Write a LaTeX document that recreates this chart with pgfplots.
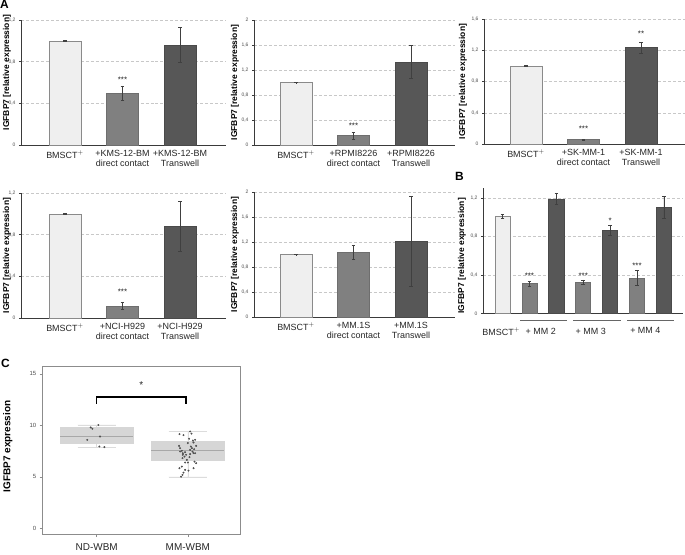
\documentclass[border=0pt]{standalone}
\usepackage{fontspec}
\setmainfont{Liberation Sans}
\usepackage{pgfplots}
\pgfplotsset{compat=1.18}
\usepgfplotslibrary{statistics}
\definecolor{cLight}{HTML}{EFEFEF}
\definecolor{cMid}{HTML}{808080}
\definecolor{cDark}{HTML}{575757}
\definecolor{cEdgeL}{HTML}{8A8A8A}
\definecolor{cEdgeM}{HTML}{6E6E6E}
\definecolor{cEdgeD}{HTML}{4A4A4A}
\definecolor{cAxis}{HTML}{3A3A3A}
\definecolor{cGrid}{HTML}{C8C8C8}
\definecolor{cBox}{HTML}{D6D6D6}
\definecolor{cMed}{HTML}{A8A8A8}
\definecolor{cWhisk}{HTML}{DCDCDC}
\definecolor{cPt}{HTML}{505050}

\pgfplotsset{
 ylab/.style 2 args={every axis y label/.style={at={(axis description cs:0,0.5)}, xshift=#1, yshift=#2, rotate=90, anchor=center, font=\bfseries\fontsize{8.5}{10}\selectfont}},
 barpanel/.style={
  scale only axis, anchor=south west,
  width=201bp, height=125bp,
  axis x line*=bottom, axis y line*=left,
  axis line style={cAxis, line width=0.8bp},
  ymin=0,
  xmin=-0.73, xmax=2.765,
  xtick={0,1,2},
  major x tick style={draw=none},
  major y tick style={cAxis, line width=0.5bp},
  tick align=outside,
  major tick length=2bp,
  ymajorgrids, grid style={densely dashed, cGrid, line width=0.4bp},
  /pgf/number format/assume math mode=true,
  yticklabel style={font=\fontsize{5}{6}\selectfont, text=black!70, /pgf/number format/.cd, fixed, use comma, precision=1},
  xticklabel style={font=\fontsize{9}{10}\selectfont, align=center, text=black!85},
  ylabel={IGFBP7 [relative expression]},
  ylab={-14bp}{0bp},
  ybar, bar shift=0pt, bar width=0.56,
  clip=false,
 },
 bL/.style={fill=cLight, draw=cEdgeL, line width=0.6bp, bar shift=0pt,
   error bars/.cd, y dir=both, y explicit,
   error bar style={black!75, line width=0.6bp},
   error mark options={black!75, line width=0.6bp, mark size=1.8bp, rotate=90}},
 bM/.style={fill=cMid, draw=cEdgeM, line width=0.6bp, bar shift=0pt,
   error bars/.cd, y dir=both, y explicit,
   error bar style={black!75, line width=0.6bp},
   error mark options={black!75, line width=0.6bp, mark size=1.8bp, rotate=90}},
 bD/.style={fill=cDark, draw=cEdgeD, line width=0.6bp, bar shift=0pt,
   error bars/.cd, y dir=both, y explicit,
   error bar style={black!75, line width=0.6bp},
   error mark options={black!75, line width=0.6bp, mark size=1.8bp, rotate=90}},
}
\tikzset{star/.style={font=\fontsize{8}{8}\selectfont, text=black!85, inner sep=0pt}}

\begin{document}
\begin{tikzpicture}
\path[use as bounding box] (0,0) rectangle (685bp,-555bp);

% panel letters
\node[anchor=north west, inner sep=0pt, font=\bfseries\fontsize{12}{12}\selectfont] at (0bp,-0.5bp) {A};
\node[anchor=north west, inner sep=0pt, font=\bfseries\fontsize{12}{12}\selectfont] at (455bp,-172bp) {B};
\node[anchor=north west, inner sep=0pt, font=\bfseries\fontsize{12}{12}\selectfont] at (1bp,-359bp) {C};

% ---------- A1 ----------
\begin{axis}[barpanel, at={(21bp,-145bp)}, width=205bp, xmax=2.8, xmin=-0.765,
  ymax=1.2, ytick={0,0.4,0.8,1.2},
  ylab={-14bp}{10bp},
  xticklabels={BMSCT$^{+}$, {+KMS-12-BM\\direct contact}, {+KMS-12-BM\\Transwell}}]
\addplot[bL] coordinates {(0,1.0) +- (0,0.004)};
\addplot[bM] coordinates {(1,0.50) +- (0,0.068)};
\addplot[bD] coordinates {(2,0.96) +- (0,0.17)};
\node[star] at (axis cs:1,0.63) {***};
\end{axis}

% ---------- A2 ----------
\begin{axis}[barpanel, at={(254bp,-145bp)},
  ymax=2, ytick={0,0.4,0.8,1.2,1.6,2},
  ylab={-19bp}{0bp},
  xticklabels={BMSCT$^{+}$, {+RPMI8226\\direct contact}, {+RPMI8226\\Transwell}}]
\addplot[bL] coordinates {(0,1.0) +- (0,0.004)};
\addplot[bM] coordinates {(1,0.15) +- (0,0.055)};
\addplot[bD] coordinates {(2,1.33) +- (0,0.27)};
\node[star] at (axis cs:1,0.30) {***};
\end{axis}

% ---------- A3 ----------
\begin{axis}[barpanel, at={(484bp,-144bp)},
  ymax=1.6, ytick={0,0.4,0.8,1.2,1.6},
  ylab={-21bp}{0bp},
  xticklabels={BMSCT$^{+}$, {+SK-MM-1\\direct contact}, {+SK-MM-1\\Transwell}}]
\addplot[bL] coordinates {(0,1.0) +- (0,0.004)};
\addplot[bM] coordinates {(1,0.055) +- (0,0.008)};
\addplot[bD] coordinates {(2,1.235) +- (0,0.07)};
\node[star] at (axis cs:1,0.19) {***};
\node[star] at (axis cs:2,1.41) {**};
\end{axis}

% ---------- A4 ----------
\begin{axis}[barpanel, at={(21bp,-318bp)}, width=205bp, xmax=2.8, xmin=-0.765,
  ymax=1.2, ytick={0,0.4,0.8,1.2},
  ylab={-14bp}{0bp},
  xticklabels={BMSCT$^{+}$, {+NCI-H929\\direct contact}, {+NCI-H929\\Transwell}}]
\addplot[bL] coordinates {(0,1.0) +- (0,0.004)};
\addplot[bM] coordinates {(1,0.117) +- (0,0.035)};
\addplot[bD] coordinates {(2,0.876) +- (0,0.24)};
\node[star] at (axis cs:1,0.25) {***};
\end{axis}

% ---------- A5 ----------
\begin{axis}[barpanel, at={(254bp,-317bp)},
  ymax=2, ytick={0,0.4,0.8,1.2,1.6,2},
  ylab={-19bp}{0bp},
  xticklabels={BMSCT$^{+}$, {+MM.1S\\direct contact}, {+MM.1S\\Transwell}}]
\addplot[bL] coordinates {(0,1.0) +- (0,0.004)};
\addplot[bM] coordinates {(1,1.04) +- (0,0.115)};
\addplot[bD] coordinates {(2,1.205) +- (0,0.72)};
\end{axis}

% ---------- B ----------
\begin{axis}[barpanel, at={(483bp,-313.3bp)}, width=200bp,
  xmin=-0.725, xmax=6.71, bar width=0.56,
  ymax=1.3, ytick={0,0.4,0.8,1.2},
  ylab={-21bp}{-5bp},
  xtick={-0.05,1.42,3.28,5.31},
  xticklabels={BMSCT$^{+}$, + MM 2, + MM 3, + MM 4},
  xticklabel style={yshift=-9bp}]
\addplot[bL] coordinates {(0,1.012) +- (0,0.02)};
\addplot[bM] coordinates {(1,0.31) +- (0,0.025)};
\addplot[bD] coordinates {(2,1.19) +- (0,0.06)};
\addplot[bM] coordinates {(3,0.323) +- (0,0.025)};
\addplot[bD] coordinates {(4,0.862) +- (0,0.055)};
\addplot[bM] coordinates {(5,0.368) +- (0,0.075)};
\addplot[bD] coordinates {(6,1.10) +- (0,0.115)};
\node[star] at (axis cs:1,0.39) {***};
\node[star] at (axis cs:3,0.39) {***};
\node[star] at (axis cs:4,0.96) {*};
\node[star] at (axis cs:5,0.49) {***};
\draw[black!60, line width=1.1bp] ([yshift=-7.5bp]axis cs:0.65,0) -- ([yshift=-7.5bp]axis cs:2.39,0);
\draw[black!60, line width=1.1bp] ([yshift=-7.5bp]axis cs:2.63,0) -- ([yshift=-7.5bp]axis cs:4.39,0);
\draw[black!60, line width=1.1bp] ([yshift=-7.5bp]axis cs:4.64,0) -- ([yshift=-7.5bp]axis cs:6.39,0);
\end{axis}

% ---------- C ----------
\begin{axis}[scale only axis, anchor=south west, at={(42.7bp,-534bp)},
  width=198bp, height=167.3bp,
  xmin=0.407, xmax=2.58, ymin=-0.55, ymax=15.7,
  axis line style={black!45, line width=0.6bp},
  xtick={1,2}, xticklabels={ND-WBM, MM-WBM},
  ytick={0,5,10,15},
  xtick pos=bottom, ytick pos=left,
  tick align=outside, major tick length=3bp,
  tick style={black!45, line width=0.5bp},
  /pgf/number format/assume math mode=true,
  yticklabel style={font=\fontsize{6}{7}\selectfont, text=black!70},
  xticklabel style={font=\fontsize{10}{12}\selectfont, text=black!85, yshift=-3bp},
  ylabel={IGFBP7 expression},
  every axis y label/.style={at={(axis description cs:0,0.5)}, xshift=-35bp, yshift=4bp, rotate=90, anchor=center, font=\bfseries\fontsize{10}{12}\selectfont},
  clip=false,
  boxplot/draw direction=y,
  boxplot/every box/.style={draw=cBox, fill=cBox},
  boxplot/every median/.style={draw=cMed, line width=0.8bp},
  boxplot/every whisker/.style={draw=cWhisk, line width=0.7bp},
]
\addplot[boxplot prepared={median=8.92, upper quartile=9.80, lower quartile=8.28,
   upper whisker=10.05, lower whisker=7.89, draw position=1, box extend=0.8, whisker extend=0.42},
   draw=cBox, fill=cBox] coordinates {};
\addplot[boxplot prepared={median=7.56, upper quartile=8.43, lower quartile=6.66,
   upper whisker=9.42, lower whisker=5.0, draw position=2, box extend=0.8, whisker extend=0.42},
   draw=cBox, fill=cBox] coordinates {};
% ND points
\addplot[only marks, mark=*, mark size=0.75bp, color=cPt] coordinates {
 (0.934,9.80) (0.952,9.67) (1.018,10.03) (1.036,8.92) (0.896,8.60) (1.029,7.95) (1.084,7.89)
};
% MM points
\addplot[only marks, mark=*, mark size=0.75bp, color=cPt] coordinates {
 (2.025,9.41) (1.908,9.15) (1.952,9.05) (2.014,8.70) (2.055,8.53) (2.080,8.60)
 (2.062,8.34) (2.000,8.28) (2.091,8.01) (1.904,8.01) (1.915,7.79) (2.044,7.79)
 (2.025,7.62) (2.069,7.69) (1.934,7.53) (2.051,7.46) (1.970,7.40) (1.945,7.30)
 (2.062,7.30) (2.080,7.30) (1.945,7.14) (1.981,7.14) (1.963,6.97) (1.941,6.82)
 (2.018,6.91) (1.989,6.65) (2.073,6.48) (1.970,6.39) (2.000,6.39) (2.091,6.33)
 (1.934,6.00) (1.908,5.84) (2.062,5.84) (1.970,5.68) (2.007,5.61) (1.952,5.41)
 (1.941,5.19) (1.926,5.02) (2.025,7.21) (2.033,7.95) (1.915,7.46) (2.040,9.20)
};
\draw[black, line width=1.5bp] (axis cs:1,12.1) -- (axis cs:1,12.75) -- (axis cs:1.978,12.75) -- (axis cs:1.978,12.1);
\node[star, font=\fontsize{10}{10}\selectfont] at (axis cs:1.49,13.9) {*};
\end{axis}
\end{tikzpicture}
\end{document}
